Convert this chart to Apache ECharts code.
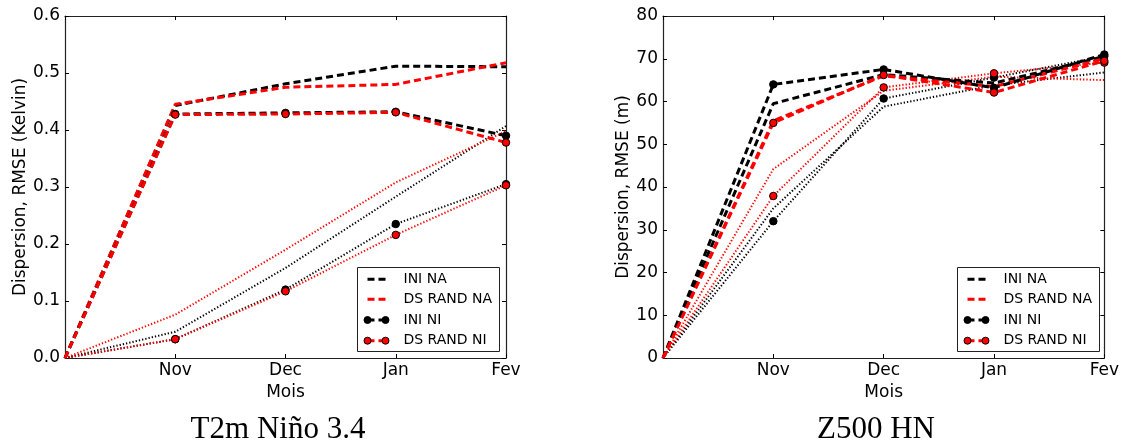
<!DOCTYPE html>
<html>
<head>
<meta charset="utf-8">
<script src="https://cdn.jsdelivr.net/npm/echarts@6/dist/echarts.min.js"></script>
<style>html,body{margin:0;padding:0;background:#fff;}#c{width:1122px;height:441px;}</style>
</head>
<body>
<div id="c"></div>
<script>
// x positions: 0 = start (unlabeled), 1..4 = Nov..Fev
const xTickLabels = ['', 'Nov', 'Dec', 'Jan', 'Fev'];
const xIdx = [0, 1, 2, 3, 4];

// Left chart: T2m Niño 3.4 (Kelvin)
const t2m_ini_na      = [0, 0.443, 0.481, 0.512, 0.511];
const t2m_ds_na       = [0, 0.445, 0.475, 0.480, 0.518];
const t2m_ini_ni      = [0, 0.428, 0.430, 0.432, 0.390];
const t2m_ds_ni       = [0, 0.427, 0.428, 0.431, 0.378];
const t2m_ini_na_dot  = [0, 0.046, 0.158, 0.283, 0.407];
const t2m_ds_na_dot   = [0, 0.076, 0.190, 0.308, 0.398];
const t2m_ini_ni_dot  = [0, 0.033, 0.120, 0.235, 0.305];
const t2m_ds_ni_dot   = [0, 0.033, 0.117, 0.216, 0.303];

// Right chart: Z500 HN (m)
const z500_ini_na     = [0, 59.5, 66.3, 64.3, 70.5];
const z500_ds_na      = [0, 55.5, 66.0, 63.5, 70.0];
const z500_ini_ni     = [0, 64.0, 67.5, 63.2, 71.0];
const z500_ds_ni      = [0, 55.0, 66.2, 62.1, 69.5];
const z500_ini_na_dot = [0, 35.0, 58.8, 63.8, 66.8];
const z500_ds_na_dot  = [0, 44.2, 62.5, 65.8, 65.0];
const z500_ini_ni_dot = [0, 32.0, 60.7, 65.6, 70.6];
const z500_ds_ni_dot  = [0, 37.9, 63.3, 66.6, 69.1];

const legendNames = ['INI NA', 'DS RAND NA', 'INI NI', 'DS RAND NI'];
const legendColors = ['#000', '#ff0000', '#000', '#ff0000'];
const legendMarkers = [false, false, true, true];
const titles = ['T2m Niño 3.4', 'Z500 HN'];

const DASH = [7, 4];
const DOT = [1.3, 2];
const font = 'DejaVu Sans';

function pair(arr, marker) {
  return xIdx.map((x, i) => (marker && i === 0) ? { value: [x, arr[i]], symbol: 'none' } : [x, arr[i]]);
}

function mk(name, data, color, dashed, marker, xi, yi, z) {
  return {
    name: name, type: 'line', xAxisIndex: xi, yAxisIndex: yi,
    data: pair(data, marker), z: z,
    symbol: marker ? 'circle' : 'none', symbolSize: 7.5,
    showSymbol: marker,
    itemStyle: { color: color, borderColor: '#000', borderWidth: 1 },
    lineStyle: { color: color, width: dashed ? 3 : 2, type: dashed ? DASH : DOT },
    animation: false, silent: true
  };
}

function seriesFor(sets, xi, yi) {
  const [a, b, c, d, e, f, g, h] = sets;
  return [
    mk('INI NA dotted', e, '#000', false, false, xi, yi, 2),
    mk('DS RAND NA dotted', f, '#ff0000', false, false, xi, yi, 2),
    mk('INI NI dotted', g, '#000', false, true, xi, yi, 2),
    mk('DS RAND NI dotted', h, '#ff0000', false, true, xi, yi, 2),
    mk(legendNames[0], a, '#000', true, false, xi, yi, 3),
    mk(legendNames[1], b, '#ff0000', true, false, xi, yi, 3),
    mk(legendNames[2], c, '#000', true, true, xi, yi, 3),
    mk(legendNames[3], d, '#ff0000', true, true, xi, yi, 3)
  ];
}

const tickCommon = { show: true, inside: true, length: 4, lineStyle: { color: '#000', width: 1 } };
const axLine = { show: true, onZero: false, lineStyle: { color: '#222', width: 1.2 } };

function xAxes(gi) {
  return [
    { type: 'value', gridIndex: gi, min: 0, max: 4, interval: 1, position: 'bottom',
      name: 'Mois', nameLocation: 'middle', nameGap: 25,
      nameTextStyle: { fontFamily: font, fontSize: 17, color: '#000' },
      axisLine: axLine, axisTick: tickCommon, splitLine: { show: false },
      axisLabel: { fontFamily: font, fontSize: 17, color: '#000', margin: 4,
        formatter: v => xTickLabels[Math.round(v)] } },
    { type: 'value', gridIndex: gi, min: 0, max: 4, interval: 1, position: 'top',
      axisLine: axLine, axisTick: tickCommon, splitLine: { show: false },
      axisLabel: { show: false } }
  ];
}
function yAxes(gi, max, interval, name, dec, gap) {
  return [
    { type: 'value', gridIndex: gi, min: 0, max: max, interval: interval, position: 'left',
      name: name, nameLocation: 'middle', nameGap: gap,
      nameTextStyle: { fontFamily: font, fontSize: 17, color: '#000' },
      axisLine: axLine, axisTick: tickCommon, splitLine: { show: false },
      axisLabel: { fontFamily: font, fontSize: 17, color: '#000', margin: 5,
        formatter: v => v.toFixed(dec) } },
    { type: 'value', gridIndex: gi, min: 0, max: max, interval: interval, position: 'right',
      axisLine: axLine, axisTick: tickCommon, splitLine: { show: false },
      axisLabel: { show: false } }
  ];
}

// matplotlib-style legend drawn as graphic elements (swatches + real text)
function legendGraphic(left, top) {
  const els = [{ type: 'rect', shape: { x: left, y: top, width: 142, height: 84 },
    style: { fill: '#fff', stroke: '#222', lineWidth: 1 }, z: 50 }];
  const rowY = [11.8, 31.8, 52.5, 73.2];
  legendNames.forEach((nm, i) => {
    const cy = top + rowY[i];
    const x0 = left + 10, x1 = left + 28;
    els.push({ type: 'line', shape: { x1: x0, y1: cy, x2: x1, y2: cy },
      style: { stroke: legendColors[i], lineWidth: 3, lineDash: [7, 4] }, z: 51 });
    if (legendMarkers[i]) {
      els.push({ type: 'circle', shape: { cx: x0, cy: cy, r: 3.5 },
        style: { fill: legendColors[i], stroke: '#000', lineWidth: 1 }, z: 52 });
      els.push({ type: 'circle', shape: { cx: x1, cy: cy, r: 3.5 },
        style: { fill: legendColors[i], stroke: '#000', lineWidth: 1 }, z: 52 });
    }
    els.push({ type: 'text', style: { text: nm, x: left + 46, y: cy, fontFamily: font,
      fontSize: 14, fill: '#000', verticalAlign: 'middle', align: 'left' }, z: 52 });
  });
  return els;
}

const chart = echarts.init(document.getElementById('c'), null, { renderer: 'canvas' });
chart.setOption({
  animation: false,
  backgroundColor: '#fff',
  title: [
    { text: titles[0], left: 273, top: 409, textAlign: 'center',
      textStyle: { fontFamily: 'Liberation Serif', fontSize: 31, fontWeight: 'normal', color: '#000' } },
    { text: titles[1], left: 871, top: 409, textAlign: 'center',
      textStyle: { fontFamily: 'Liberation Serif', fontSize: 31, fontWeight: 'normal', color: '#000' } }
  ],
  grid: [
    { left: 65, right: 616, top: 16, bottom: 83 },
    { left: 663, right: 17, top: 16, bottom: 83 }
  ],
  xAxis: [...xAxes(0), ...xAxes(1)],
  yAxis: [...yAxes(0, 0.6, 0.1, 'Dispersion, RMSE (Kelvin)', 1, 36), ...yAxes(1, 80, 10, 'Dispersion, RMSE (m)', 0, 29)],
  series: [
    ...seriesFor([t2m_ini_na, t2m_ds_na, t2m_ini_ni, t2m_ds_ni, t2m_ini_na_dot, t2m_ds_na_dot, t2m_ini_ni_dot, t2m_ds_ni_dot], 0, 0),
    ...seriesFor([z500_ini_na, z500_ds_na, z500_ini_ni, z500_ds_ni, z500_ini_na_dot, z500_ds_na_dot, z500_ini_ni_dot, z500_ds_ni_dot], 2, 2)
  ],
  graphic: [...legendGraphic(357.5, 267.5), ...legendGraphic(957.5, 267.5)]
});
</script>
</body>
</html>
